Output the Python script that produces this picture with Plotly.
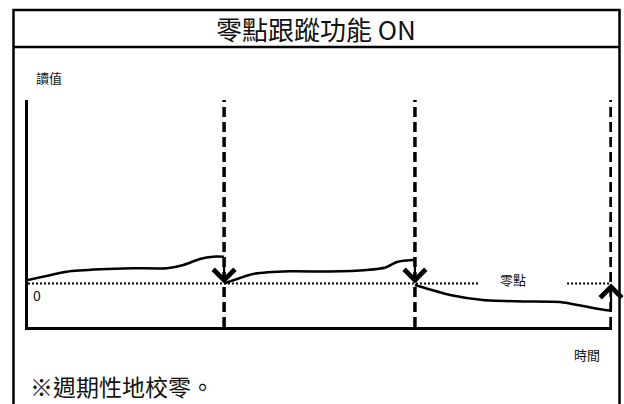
import plotly.graph_objects as go

W, H = 624, 404

# reading vs time, three tracking cycles (time in cycle units, reading in arbitrary units)
seg1_t = [0.0, 0.2, 0.37, 0.54, 0.715, 0.80, 0.885, 0.952, 1.009]
seg1_v = [0.35, 1.18, 1.42, 1.52, 1.52, 1.85, 2.45, 2.68, 2.68]
seg2_t = [1.009, 1.158, 1.348, 1.55, 1.744, 1.84, 1.899, 1.976, 1.991]
seg2_v = [0.0, 0.95, 1.22, 1.2, 1.35, 1.6, 2.15, 2.35, 2.35]
seg3_t = [1.991, 2.172, 2.341, 2.55, 2.738, 2.907, 2.969, 3.0]
seg3_v = [-0.15, -1.15, -1.65, -1.8, -1.85, -2.45, -2.65, -2.7]

reset_times = [1.009, 1.991, 3.0]
zero_gap = [2.326, 2.774]   # gap in the zero line for its label
t_max = 3.005
v_range = [-4.35, 18.35]

FONT = "Noto Sans CJK TC"


def px(x):
    return x / W


def py(y):
    return 1 - y / H


fig = go.Figure()

# dotted zero line
fig.add_trace(go.Scatter(x=[0, zero_gap[0], None, zero_gap[1], reset_times[-1]],
                         y=[0, 0, None, 0, 0], mode="lines",
                         line=dict(color="black", width=2, dash="2px,2px"), hoverinfo="skip"))

# the drifting reading, one trace per cycle
for tt, vv in [(seg1_t, seg1_v), (seg2_t, seg2_v), (seg3_t, seg3_v)]:
    fig.add_trace(go.Scatter(x=tt, y=vv, mode="lines",
                             line=dict(color="black", width=2.5, shape="spline", smoothing=0.5),
                             hoverinfo="skip"))

# dashed lines at every zero reset
for t in reset_times:
    fig.add_shape(type="line", xref="x", yref="y domain", x0=t, x1=t, y0=0, y1=1,
                  line=dict(color="black", width=3.5, dash="10px,5px"))

# arrows from drifted reading back to zero
for tt, vv in [(seg1_t, seg1_v), (seg2_t, seg2_v), (seg3_t, seg3_v)]:
    fig.add_annotation(x=tt[-1], y=0, ax=tt[-1], ay=vv[-1], axref="x", ayref="y",
                       showarrow=True, arrowhead=4, arrowsize=1.9, arrowwidth=2.2,
                       arrowcolor="black", text="")

# outer frame and title row
fig.add_shape(type="rect", xref="paper", yref="paper", x0=px(13.5), x1=px(619.5),
              y0=py(420), y1=py(10), line=dict(color="black", width=2.5))
fig.add_shape(type="line", xref="paper", yref="paper", x0=px(13.5), x1=px(619.5),
              y0=py(47), y1=py(47), line=dict(color="black", width=2.5))

texts = [
    ("零點跟蹤功能 ON", 316, 28, 26, "center"),
    ("讀值", 34, 78, 13, "left"),
    ("0", 31, 295, 14, "left"),
    ("零點", 513, 279, 13, "center"),
    ("時間", 572, 354, 13, "left"),
    ("※週期性地校零。", 28, 386, 23, "left"),
]
for txt, x, y, size, anchor in texts:
    fig.add_annotation(x=px(x), y=py(y), xref="paper", yref="paper", text=txt,
                       showarrow=False, xanchor=anchor, yanchor="middle",
                       font=dict(family=FONT, size=size, color="#111"))

fig.update_layout(
    width=W, height=H, margin=dict(l=0, r=0, t=0, b=0),
    paper_bgcolor="white", plot_bgcolor="white", showlegend=False,
    xaxis=dict(domain=[px(28), px(612)], range=[0, t_max], showgrid=False, zeroline=False,
               showticklabels=False, ticks="", showline=True, linecolor="black", linewidth=3),
    yaxis=dict(domain=[py(327), py(100)], range=v_range, showgrid=False, zeroline=False,
               showticklabels=False, ticks="", showline=True, linecolor="black", linewidth=3),
)

# page body has a default 8px margin; drop it so the figure fills the window
fig.write_html("out.html", config={"displayModeBar": False},
               post_script="document.body.style.margin='0';document.body.style.overflow='hidden';")
